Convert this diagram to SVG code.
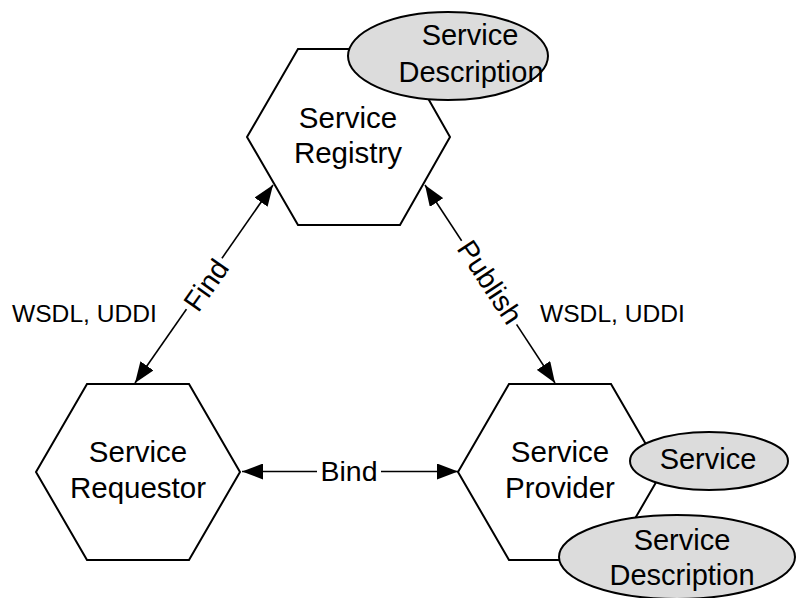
<svg xmlns="http://www.w3.org/2000/svg" width="797" height="598" viewBox="0 0 797 598">
  <style>
    .hex { fill: #ffffff; stroke: #000000; stroke-width: 2; stroke-linejoin: miter; }
    .oval { fill: #dcdcdc; stroke: #000000; stroke-width: 2; }
    .link { fill: none; stroke: #000000; stroke-width: 1.6; }
    .gap { fill: #ffffff; stroke: none; }
    text { font-family: "Liberation Sans", Arial, sans-serif; fill: #000000; text-anchor: middle; }
    .big { font-size: 29.5px; }
    .mid { font-size: 29px; }
    .lbl { font-size: 28.5px; }
    .side { font-size: 24.6px; text-anchor: start; }
  </style>
  <defs>
    <marker id="head" viewBox="0 0 21 16" refX="21" refY="8" markerWidth="21" markerHeight="16" markerUnits="userSpaceOnUse" orient="auto-start-reverse">
      <path d="M0,0 L21,8 L0,16 Z" fill="#000000"/>
    </marker>
  </defs>

  <rect width="797" height="598" fill="#ffffff"/>

  <!-- connectors -->
  <g id="connectors">
    <line class="link" x1="135" y1="383" x2="273" y2="185" marker-start="url(#head)" marker-end="url(#head)"/>
    <line class="link" x1="425" y1="185" x2="555" y2="383" marker-start="url(#head)" marker-end="url(#head)"/>
    <line class="link" x1="242" y1="471.5" x2="458" y2="471.5" marker-start="url(#head)" marker-end="url(#head)"/>

    <g transform="translate(206,285) rotate(-55)">
      <rect class="gap" x="-31" y="-12" width="62" height="24"/>
      <text class="lbl" x="0" y="10">Find</text>
    </g>
    <g transform="translate(490,282) rotate(56.6)">
      <rect class="gap" x="-50" y="-12" width="100" height="24"/>
      <text class="lbl" x="0" y="10">Publish</text>
    </g>
    <rect class="gap" x="317" y="460" width="64" height="24"/>
    <text class="lbl" x="349" y="481">Bind</text>
  </g>

  <text class="side" x="12" y="322">WSDL, UDDI</text>
  <text class="side" x="540" y="322">WSDL, UDDI</text>

  <!-- registry -->
  <g id="registry">
    <polygon class="hex" points="247,137 298,49 400,49 450,137 400,225 298,225"/>
    <text class="big" x="348" y="128">Service</text>
    <text class="big" x="348" y="163">Registry</text>
  </g>
  <g id="registry-description">
    <ellipse class="oval" cx="448" cy="56" rx="100" ry="44"/>
    <text class="mid" x="470" y="45">Service</text>
    <text class="mid" x="471" y="82">Description</text>
  </g>

  <!-- requestor -->
  <g id="requestor">
    <polygon class="hex" points="36,472 87,384 189,384 240,472 189,560 87,560"/>
    <text class="big" x="138" y="462">Service</text>
    <text class="big" x="138" y="498">Requestor</text>
  </g>

  <!-- provider -->
  <g id="provider">
    <polygon class="hex" points="458,472 509,384 611,384 662,472 611,560 509,560"/>
    <text class="big" x="560" y="462">Service</text>
    <text class="big" x="560" y="498">Provider</text>
  </g>
  <g id="provider-service">
    <ellipse class="oval" cx="709" cy="461" rx="79" ry="29"/>
    <text class="mid" x="708" y="469">Service</text>
  </g>
  <g id="provider-description">
    <ellipse class="oval" cx="677" cy="557" rx="118" ry="42"/>
    <text class="mid" x="682" y="550">Service</text>
    <text class="mid" x="682" y="585">Description</text>
  </g>
</svg>
